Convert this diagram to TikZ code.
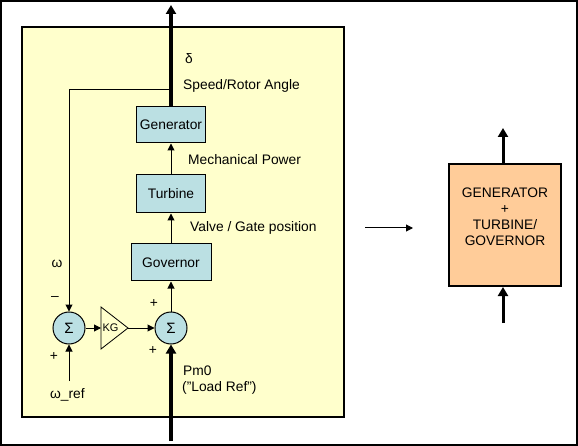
\documentclass[tikz,border=0pt]{standalone}
\usepackage{fontspec}
\setmainfont{Liberation Sans}
\usetikzlibrary{arrows.meta}
\definecolor{panel}{HTML}{FFFFCC}
\definecolor{blk}{HTML}{BBE0E3}
\definecolor{orng}{HTML}{FFCC99}
\begin{document}
\begin{tikzpicture}[x=1pt,y=-1pt,
  font=\fontsize{13.8}{16}\selectfont,
  blockbox/.style={draw, fill=blk, line width=1pt, inner sep=0pt},
  sumnode/.style={circle, draw, fill=blk, minimum size=32pt, inner sep=0pt, line width=1pt, font=\fontsize{15}{16}\selectfont},
  sigarrow/.style={line width=1pt, -{Triangle[length=7pt,width=7pt]}},
  bigarrow/.style={line width=4pt, -{Triangle[length=9pt,width=10pt]}},
  lbl/.style={anchor=west, inner sep=0pt},
  sgn/.style={inner sep=0pt}]
\useasboundingbox (0,0) rectangle (578,446);
\draw[line width=2pt] (1,1) rectangle (577,445);
\draw[line width=2.5pt, fill=panel] (22,27) rectangle (344,417);

% blocks
\node[blockbox, minimum width=69pt, minimum height=36pt] (gen) at (171,125) {Generator};
\node[blockbox, minimum width=69pt, minimum height=38pt] (tur) at (171,194) {Turbine};
\node[blockbox, minimum width=80pt, minimum height=37pt] (gov) at (171,262.5) {Governor};
\node[sumnode] (s1) at (69,328) {Σ};
\node[sumnode] (s2) at (171,328) {Σ};

% KG triangle
\draw[line width=0.8pt] (101,307) -- (128,328) -- (101,349) -- cycle;
\coordinate (kgin) at (101,328);
\coordinate (kgout) at (128,328);
\node[inner sep=0pt, font=\fontsize{11}{12}\selectfont] (kg) at (110.5,328) {KG};

% free ends
\coordinate (top) at (171,5);
\coordinate (fb) at (171,90);
\coordinate (wref) at (69,381);
\coordinate (bot) at (171,441);

% connectors
\draw[bigarrow] (gen.north) -- (top);
\draw[line width=1pt] (fb) -- (fb -| s1);
\draw[sigarrow] (fb -| s1) -- (s1.north);
\draw[sigarrow] (tur.north) -- (gen.south);
\draw[sigarrow] (gov.north) -- (tur.south);
\draw[sigarrow] (s2.north) -- (gov.south);
\draw[sigarrow] (s1.east) -- (kgin);
\draw[sigarrow] (kgout) -- (s2.west);
\draw[sigarrow] (wref) -- (s1.south);
\draw[bigarrow] (bot) -- (s2.south);

% labels
\node[lbl] (dl) at (185,59) {δ};
\node[lbl] (sra) at (183,86) {Speed/Rotor Angle};
\node[lbl] (mp) at (188,160) {Mechanical Power};
\node[lbl] (vg) at (190,228) {Valve / Gate position};
\node[sgn] (om) at (57,264) {ω};
\node[sgn] (m1) at (55,299) {\textendash};
\node[sgn] (p1) at (54,357) {+};
\node[sgn] (p2) at (154,304) {+};
\node[sgn] (p3) at (153,351) {+};
\node[lbl] (wr) at (50,395) {ω\_ref};
\node[lbl] (pm) at (183,371) {Pm0};
\node[lbl] (lr) at (182,388) {(\char"22 Load Ref\char"22 )};

% right block
\node[draw, fill=orng, line width=2pt, minimum width=112pt, minimum height=122pt] (ob) at (505,225) {};
\node[align=center, inner sep=0pt] (obt) at (505,217) {GENERATOR\\+\\TURBINE/\\GOVERNOR};
\coordinate (obtop) at (503,128);
\coordinate (obbot) at (503,323);
\draw[bigarrow, line width=3pt] (ob.north -| obtop) -- (obtop);
\draw[bigarrow, line width=3pt] (obbot) -- (obbot |- ob.south);
\coordinate (ha) at (365,228);
\coordinate (hb) at (413,228);
\draw[sigarrow] (ha) -- (hb);
\end{tikzpicture}
\end{document}
